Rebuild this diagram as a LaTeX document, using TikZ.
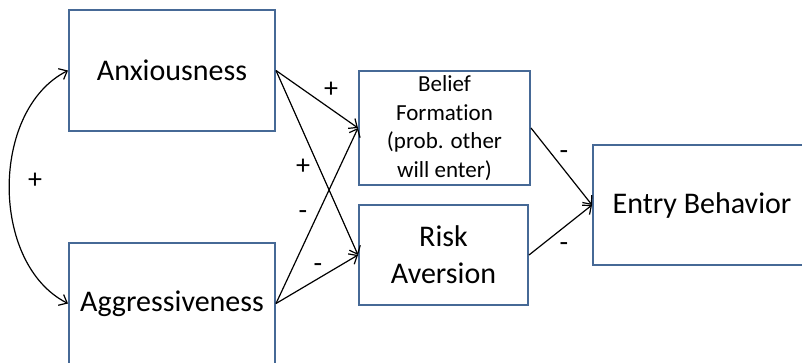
\documentclass[tikz,border=0pt]{standalone}
\usepackage{fontspec}
\setmainfont[Ligatures=NoCommon]{Carlito}
\usetikzlibrary{arrows.meta}
\definecolor{boxblue}{RGB}{70,105,150}
\begin{document}
\begin{tikzpicture}[x=1pt,y=-1pt,
  box/.style={draw=boxblue, line width=2pt, inner sep=0pt, align=center, font=\fontsize{30pt}{37pt}\selectfont},
  small/.style={font=\fontsize{23pt}{28.5pt}\selectfont},
  link/.style={draw=black, line width=1.2pt, -{Straight Barb[length=7pt,width=12pt]}},
  twoway/.style={draw=black, line width=1.2pt, {Straight Barb[length=7pt,width=12pt]}-{Straight Barb[length=7pt,width=12pt]}},
  sign/.style={font=\fontsize{28pt}{32pt}\selectfont, inner sep=0pt, anchor=base}]
\useasboundingbox (0,0) rectangle (802,362);
\clip (0,0) rectangle (802,362);
\node[box, minimum width=206pt, minimum height=121pt] (anx) at (172,70.5) {Anxiousness};
\node[box, minimum width=206pt, minimum height=121pt] (agg) at (172,303.5) {Aggressiveness};
\node[box, small, minimum width=171pt, minimum height=114pt] (bel) at (444.5,128) {Belief\\Formation\\(prob. other\\will enter)};
\node[box, minimum width=169pt, minimum height=100pt] (risk) at (443.5,255) {Risk\\Aversion};
\node[box, minimum width=218pt, minimum height=120pt] (entry) at (702,205) {Entry Behavior};
\draw[link] (anx.east) -- (bel.west);
\draw[link] (anx.east) -- (risk.west);
\draw[link] (agg.east) -- (bel.west);
\draw[link] (agg.east) -- (risk.west);
\draw[link] (bel.east) -- (entry.west);
\draw[link] (risk.east) -- (entry.west);
\draw[twoway] (anx.west) .. controls (-10,110) and (-10,264) .. (agg.west);
\node[sign] (s1) at (331,97) {+};
\node[sign] (s2) at (303,174) {+};
\node[sign] (s3) at (303,219.5) {-};
\node[sign] (s4) at (318,272) {-};
\node[sign] (s5) at (35,188) {+};
\node[sign] (s6) at (564,159.5) {-};
\node[sign] (s7) at (564,251.5) {-};
\end{tikzpicture}
\end{document}
